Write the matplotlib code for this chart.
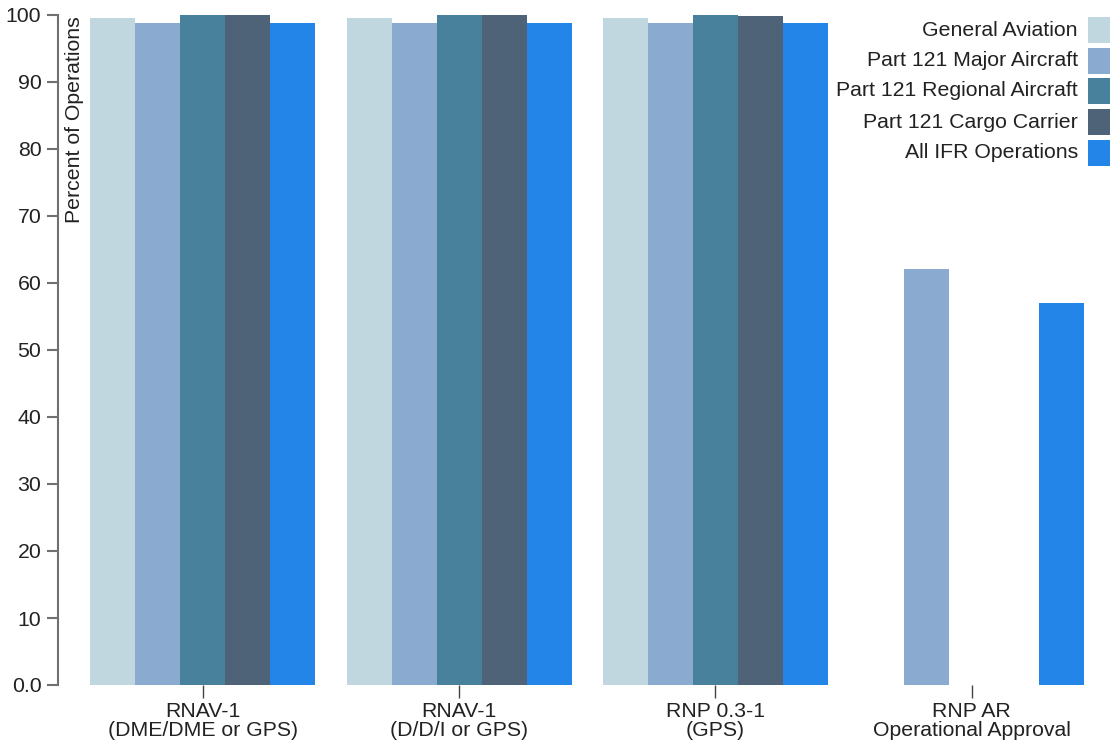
import matplotlib
matplotlib.use("Agg")
import matplotlib.pyplot as plt
import numpy as np
from matplotlib.patches import Rectangle

plt.rcParams['font.family'] = ['Liberation Sans', 'DejaVu Sans']

categories = ["RNAV-1\n(DME/DME or GPS)", "RNAV-1\n(D/D/I or GPS)", "RNP 0.3-1\n(GPS)", "RNP AR\nOperational Approval"]
series_names = ["General Aviation", "Part 121 Major Aircraft", "Part 121 Regional Aircraft",
                "Part 121 Cargo Carrier", "All IFR Operations"]
general_aviation = [99.5, 99.5, 99.5, 0]
major_aircraft = [98.8, 98.8, 98.8, 62.1]
regional_aircraft = [100, 100, 100, 0]
cargo_carrier = [100, 100, 99.8, 0]
all_ifr = [98.8, 98.8, 98.8, 57.0]
yticks = [0, 10, 20, 30, 40, 50, 60, 70, 80, 90, 100]
ytick_labels = ["0.0", "10", "20", "30", "40", "50", "60", "70", "80", "90", "100"]
colors = ["#c1d7df", "#8aabcf", "#48819b", "#4e6378", "#2385e8"]

values = [general_aviation, major_aircraft, regional_aircraft, cargo_carrier, all_ifr]

FS = 15.3
W, H = 1110, 746
fig = plt.figure(figsize=(W / 100, H / 100), dpi=100)
ax_left, ax_right = 58, 1100
ax_bottom, ax_top = 685, 15
ax = fig.add_axes([ax_left / W, 1 - ax_bottom / H, (ax_right - ax_left) / W, (ax_bottom - ax_top) / H])

n_groups = len(categories)
x = np.arange(n_groups)
bar_w = 0.8774 / 5
for i, (vals, c) in enumerate(zip(values, colors)):
    ax.bar(x + (i - 2) * bar_w, vals, width=bar_w, color=c, linewidth=0)

ax.set_xlim(-0.5 - 0.0645, n_groups - 0.5 + 0.0)
ax.set_ylim(0, 100)
ax.set_yticks(yticks)
ax.set_yticklabels(ytick_labels)
ax.set_xticks(x)
ax.set_xticklabels(categories)

for s in ['top', 'right', 'bottom']:
    ax.spines[s].set_visible(False)
ax.spines['left'].set_color('#707070')
ax.spines['left'].set_linewidth(1.5)
ax.tick_params(axis='y', length=8, width=1.5, color='#707070', labelsize=FS, labelcolor='#222222', pad=4)
ax.tick_params(axis='x', length=9, width=1.0, color='#444444', labelsize=FS, labelcolor='#222222', pad=3)
for lbl in ax.get_xticklabels():
    lbl.set_linespacing(1.05)

ax.text(75 / W, 1 - 16 / H, "Percent of Operations", transform=fig.transFigure, rotation=90,
        ha='center', va='top', fontsize=FS, color='#222222')

# legend (manual, right aligned)
row_centers = [30, 61, 91, 122, 153]
for name, c, yc in zip(series_names, colors, row_centers):
    fig.patches.append(Rectangle(((1088) / W, 1 - (yc + 13) / H), 24 / W, 26 / H,
                                 transform=fig.transFigure, color=c, linewidth=0))
    fig.text(1078 / W, 1 - yc / H, name, ha='right', va='center', fontsize=FS, color='#222222')

fig.savefig("out.png", dpi=100)
